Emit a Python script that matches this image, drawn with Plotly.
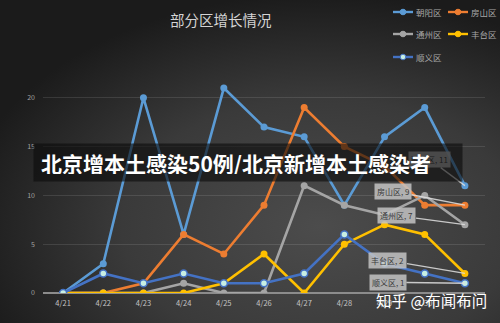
import base64
import plotly.graph_objects as go

# ---------------- data ----------------
dates = ["4/21", "4/22", "4/23", "4/24", "4/25", "4/26", "4/27", "4/28", "4/29", "4/30", "5/1"]
chaoyang = [0, 3, 20, 6, 21, 17, 16, 9, 16, 19, 11]
fangshan = [0, 0, 1, 6, 4, 9, 19, 15, 13, 9, 9]
tongzhou = [0, 0, 0, 1, 0, 0, 11, 9, 8, 10, 7]
fengtai = [0, 0, 0, 0, 1, 4, 0, 5, 7, 6, 2]
shunyi = [0, 2, 1, 2, 1, 1, 2, 6, 3, 2, 1]
series_names = ["朝阳区", "房山区", "通州区", "丰台区", "顺义区"]
y_ticks = [0, 5, 10, 15, 20, 25]
y_tick_labels = ["0", "5", "10", "15", "20", ""]  # top label hidden behind the logo in the reference
title_text = "部分区增长情况"
banner_text = "北京增本土感染50例/北京新增本土感染者"
watermark = "知乎 @布闻布问"

# ---------------- layout geometry ----------------
W, H = 500, 323
L, R, T, B = 43, 15, 49, 30
PW, PH = W - L - R, H - T - B
FONT = "Noto Sans CJK SC"


def px_x(p):
    return (p - L) / PW


def px_y(p):
    return (H - B - p) / PH


line_colors = ["#5B9BD5", "#ED7D31", "#A5A5A5", "#FFC000", "#4472C4"]
marker_fill = ["#5B9BD5", "#ED7D31", "#A5A5A5", "#FFC000", "#c8efe3"]
values = [chaoyang, fangshan, tongzhou, fengtai, shunyi]

fig = go.Figure()
for name, vals, lc, mf in zip(series_names, values, line_colors, marker_fill):
    fig.add_trace(go.Scatter(
        x=dates, y=vals, name=name, mode="lines+markers",
        line=dict(color=lc, width=2.6),
        marker=dict(size=7, color=mf, line=dict(color=lc, width=1.5 if mf != lc else 0)),
        showlegend=False,
    ))

# ---------------- background gradient ----------------
svg = ("<svg xmlns='http://www.w3.org/2000/svg' width='500' height='323'>"
       "<defs><radialGradient id='g' cx='0.64' cy='0.70' r='0.72'>"
       "<stop offset='0' stop-color='#4c4c4c'/><stop offset='0.55' stop-color='#3a3a3a'/>"
       "<stop offset='1' stop-color='#1b1b1b'/></radialGradient></defs>"
       "<rect width='500' height='323' fill='url(#g)'/></svg>")
src = "data:image/svg+xml;base64," + base64.b64encode(svg.encode()).decode()

shapes = []
annotations = []

# ---------------- custom legend ----------------
leg_pos = [(393, 12), (448, 12), (393, 34), (448, 34), (393, 57)]
for (lx, ly), name, lc, mf in zip(leg_pos, series_names, line_colors, marker_fill):
    shapes.append(dict(type="line", xref="paper", yref="paper",
                       x0=px_x(lx), x1=px_x(lx + 20), y0=px_y(ly), y1=px_y(ly),
                       line=dict(color=lc, width=2.4)))
    shapes.append(dict(type="circle", xref="paper", yref="paper",
                       xsizemode="pixel", ysizemode="pixel",
                       xanchor=px_x(lx + 10), yanchor=px_y(ly),
                       x0=-2.8, x1=2.8, y0=-2.8, y1=2.8,
                       fillcolor=mf, line=dict(color=lc, width=1)))
    annotations.append(dict(text=name, xref="paper", yref="paper",
                            x=px_x(lx + 20.5), y=px_y(ly), xanchor="left", yanchor="middle",
                            showarrow=False, font=dict(family=FONT, size=8.5, color="#a8a8a8")))

# ---------------- data labels on last point ----------------
label_offsets = [(-35, -26), (-72, -14), (-68, -9), (-77, -13), (-77, -1)]
for name, vals, (ax, ay) in zip(series_names, values, label_offsets):
    annotations.append(dict(
        text=f"{name}, {vals[-1]}", x=dates[-1], y=vals[-1], xref="x", yref="y",
        ax=ax, ay=ay, showarrow=True, arrowhead=0, arrowwidth=1.3,
        arrowcolor="rgba(225,225,225,0.85)", standoff=0,
        bgcolor="rgba(195,195,195,0.85)", borderpad=2,
        font=dict(family=FONT, size=8, color="#3a3a3a")))

# ---------------- title ----------------
annotations.append(dict(text=title_text, xref="paper", yref="paper",
                        x=px_x(221), y=px_y(20), xanchor="center", yanchor="middle",
                        showarrow=False, font=dict(family=FONT, size=14.5, color="#d4d4d4")))

# ---------------- watermark ----------------
annotations.append(dict(text=watermark, xref="paper", yref="paper",
                        x=px_x(431), y=px_y(300), xanchor="center", yanchor="middle",
                        showarrow=False, font=dict(family=FONT, size=15.5, color="#ffffff")))

# ---------------- banner (drawn last, on top) ----------------
annotations.append(dict(text="<b>" + banner_text + "</b>", xref="paper", yref="paper",
                        x=px_x(33), y=px_y(143), xanchor="left", yanchor="top",
                        width=414, height=23, align="left", valign="middle",
                        borderpad=7, bgcolor="rgba(12,12,12,0.62)", showarrow=False,
                        font=dict(family=FONT, size=21, color="#ffffff")))

fig.update_layout(
    width=W, height=H,
    margin=dict(l=L, r=R, t=T, b=B, pad=0),
    paper_bgcolor="#2c2c2c", plot_bgcolor="rgba(0,0,0,0)",
    images=[dict(source=src, xref="paper", yref="paper",
                 x=-L / PW, y=1 + T / PH, sizex=W / PW, sizey=H / PH,
                 xanchor="left", yanchor="top", sizing="stretch", layer="below")],
    shapes=shapes, annotations=annotations,
    showlegend=False,
    font=dict(family=FONT),
)
fig.update_xaxes(type="category", categoryorder="array", categoryarray=dates,
                 range=[-0.5, len(dates) - 0.5], showgrid=False, zeroline=False,
                 showline=False, ticks="", ticklabelstandoff=4,
                 tickfont=dict(family=FONT, size=7.5, color="#c4c4c4"))
fig.update_yaxes(range=[0, 25], tickvals=y_ticks, ticktext=y_tick_labels, showgrid=True,
                 gridcolor="rgba(255,255,255,0.11)", gridwidth=1,
                 zeroline=True, zerolinecolor="#8c8c8c", zerolinewidth=1.6,
                 showline=False, ticks="", ticklabelstandoff=7,
                 tickfont=dict(family=FONT, size=7, color="#a0a0a0"))

fig.write_html("out.html")
